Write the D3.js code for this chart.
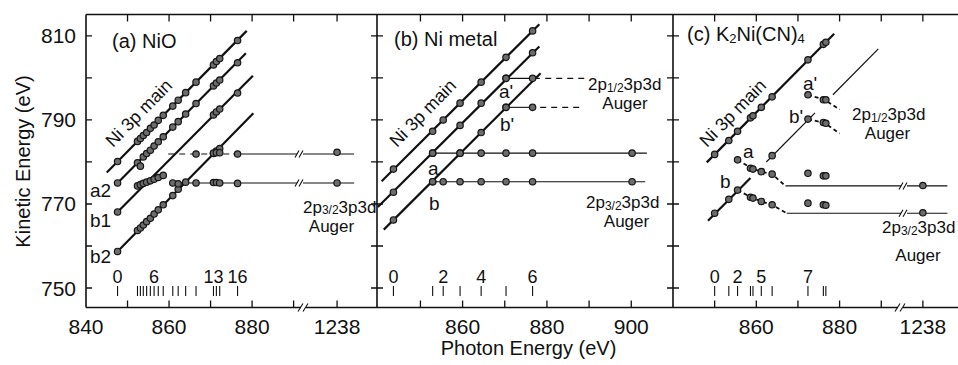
<!DOCTYPE html>
<html>
<head>
<meta charset="utf-8">
<script src="https://cdn.jsdelivr.net/npm/d3@7/dist/d3.min.js"></script>
<style>
html,body{margin:0;padding:0;background:#fff;}
svg{display:block;}
text{font-family:"Liberation Sans",Arial,Helvetica,sans-serif;fill:#111;}
</style>
</head>
<body>
<svg id="chart" width="958" height="365"></svg>
<script>
// ================= DATA =================
const keTicks = [750, 760, 770, 780, 790, 800, 810];
const keTickLabels = [750, 770, 790, 810];

// ---- (a) NiO ----
const nioTicks = [850, 860, 870, 880, 890, 1238];
const nioTickLabels = [840, 860, 880, 1238];
const nioHv = [847.6, 852.4, 853.1, 853.8, 854.6, 855.5, 856.4, 857.4, 858.6, 860.9, 862.2, 864.0, 866.5, 870.7, 871.4, 872.2, 876.5];
const nioHvShown = [0, 6, 13, 16];
const nioMain = [[847.6,780.1],[852.4,784.9],[853.1,785.6],[853.8,786.3],[854.6,787.0],[855.5,788.0],[856.4,788.8],[857.4,789.9],[858.6,791.1],[860.9,793.3],[862.2,794.7],[864.0,796.5],[866.5,799.0],[870.7,803.1],[871.4,803.9],[872.2,804.6],[876.5,808.9]];
const nioA2 = [[847.6,775.0],[852.4,779.8],[853.1,779.0],[853.8,781.2],[854.6,782.0],[855.5,782.8],[856.4,783.8],[857.4,784.8],[858.6,786.0],[860.9,788.3],[862.2,789.6],[864.0,791.4],[866.5,793.9],[870.7,798.1],[871.4,798.8],[872.2,799.5],[876.5,803.6]];
const nioB1 = [[847.6,768.1],[852.4,774.3],[853.1,774.6],[853.8,774.9],[854.6,775.2],[855.5,775.5],[856.4,775.9],[857.4,776.3],[858.6,776.8],[870.7,791.2],[871.4,791.9],[872.2,792.6],[876.5,796.4]];
const nioB2 = [[847.6,758.7],[852.4,763.7],[853.1,764.3],[853.8,765.0],[854.6,765.8],[855.5,766.6],[856.4,767.6],[857.4,768.6],[858.6,769.8],[860.9,772.0],[862.2,773.5],[870.7,782.0],[871.4,782.6],[872.2,783.2]];
const nioAugHi = [[866.5,781.9],[870.7,782.1],[871.4,782.2],[872.2,782.2],[876.5,781.9],[1238,782.3]];
const nioAugLo = [[860.9,775.0],[862.2,774.8],[864.0,775.2],[866.5,775.0],[870.7,775.1],[871.4,775.1],[872.2,775.0],[876.5,774.9],[1238,775.0]];
const nioFitMain = [[845.0,777.5],[878.7,811.2]];
const nioFitA2 = [[847.6,775.0],[878.5,805.9]];
const nioFitB1 = [[847.6,768.1],[880.2,800.5]];
const nioFitB2 = [[847.6,758.7],[880.3,791.6]];
const nioHiDash = [[859.8,781.9],[875.5,781.9]];
const nioHiSolid = [[875.5,781.9],[1242.1,781.9]];
const nioLoSolid = [[860.9,775.0],[1242.1,775.0]];

// ---- (b) Ni metal ----
const niTicks = [850, 860, 870, 880, 890, 900];
const niTickLabels = [860, 880, 900];
const niHv = [843.6, 852.9, 855.4, 859.4, 864.4, 870.3, 876.6];
const niHvShown = [0, 2, 4, 6];
const niMain = [[843.6,778.3],[852.9,787.3],[855.4,790.0],[859.4,794.0],[864.4,799.0],[870.3,804.9],[876.6,811.2]];
const niA = [[843.6,772.8],[852.9,782.1],[859.4,788.7],[864.4,794.0],[870.3,799.9],[876.6,806.0]];
const niB = [[843.6,766.2],[852.9,775.3],[859.4,782.1],[864.4,787.0],[870.3,793.0]];
const niAugA = [[852.9,782.1],[859.4,782.1],[864.4,782.1],[870.3,782.1],[876.6,782.1],[900.2,782.1]];
const niAugB = [[852.9,775.3],[855.4,775.3],[859.4,775.3],[864.4,775.3],[870.3,775.3],[876.6,775.3],[900.2,775.3]];
const niAugA1 = [[870.3,799.9],[876.6,799.9]];
const niAugB1 = [[870.3,793.0],[876.6,793.0]];
const niFitMain = [[840.8,775.4],[878.2,812.8]];
const niFitA = [[839.9,769.3],[878.2,807.5]];
const niFitB = [[841.3,763.9],[878.5,801.1]];
const niLineA = [[852.9,782.1],[903.7,782.1]];
const niLineB = [[852.9,775.3],[903.3,775.3]];
const niLineA1 = [[870.3,799.9],[878.3,799.9]];
const niDashA1 = [[879.6,799.9],[889.6,799.9]];
const niLineB1 = [[870.3,793.0],[876.6,793.0]];
const niDashB1 = [[878.4,793.0],[888.4,793.0]];

// ---- (c) K2Ni(CN)4 ----
const kTicks = [850, 860, 870, 880, 890, 1238];
const kTickLabels = [860, 880, 1238];
const kHv = [850.0, 853.4, 855.5, 858.6, 859.2, 861.2, 863.8, 872.4, 876.1, 876.7];
const kHvShown = [0, 2, 5, 7];
const kMain = [[850.0,781.8],[853.4,785.1],[855.5,787.3],[858.6,790.5],[859.2,791.0],[861.2,793.0],[863.8,795.5],[872.4,804.3],[876.1,808.0],[876.7,808.5]];
const kB = [[850.0,767.8],[853.4,771.1],[855.5,773.3],[863.8,781.5]];
const kA = [[855.5,780.5],[858.6,778.5],[859.2,778.3],[861.2,777.7],[863.8,777.1],[872.4,777.3],[876.1,776.7],[876.7,776.7],[1238,774.4]];
const kBaug = [[858.6,771.6],[859.2,771.4],[861.2,770.6],[863.8,769.8],[872.4,770.2],[876.1,769.8],[876.7,769.7],[1238,767.9]];
const kA1 = [[872.4,796.0],[876.1,794.8],[876.7,794.8]];
const kB1 = [[872.4,790.2],[876.1,789.4],[876.7,789.2]];
const kFitMain = [[848.1,779.9],[878.7,810.5]];
const kFitB = [[848.4,766.0],[858.6,776.2]];
const kThin1 = [[862.4,780.0],[874.1,791.7]];
const kThin2 = [[878.4,796.0],[889.3,806.9]];
const kDashA = [[855.5,780.5],[859.0,778.4],[861.2,777.7],[863.8,777.1],[867.0,774.3]];
const kLineA = [[867.0,774.3],[1244.0,774.3]];
const kDashB = [[855.5,773.3],[859.0,771.5],[861.2,770.6],[863.8,769.8],[867.3,767.8]];
const kLineB = [[867.3,767.8],[1244.0,767.8]];
const kDashA1 = [[872.4,796.0],[876.4,794.8],[880.0,792.5]];
const kDashB1 = [[872.4,790.2],[876.4,789.3],[880.0,786.8]];

// ================= LAYOUT =================
const svg = d3.select("#chart");
const TOP = 14.5, BOT = 307.5;
const y = d3.scaleLinear().domain([745.36, 815.1]).range([BOT, TOP]);
const xA = d3.scaleLinear().domain([840, 892.5, 1230.05, 1247.6]).range([86, 304, 304, 377]);
const xB = d3.scaleLinear().domain([839.7, 909.9]).range([377, 673]);
const xC = d3.scaleLinear().domain([840, 894.5, 1232.4, 1246.6]).range([673, 900, 900, 958]);
const INK = "#111";

const gLines = svg.append("g");
const gPts = svg.append("g");
const gTxt = svg.append("g");

function line(x, pts, w, dash) {
  gLines.append("path")
    .attr("d", d3.line().x(d => x(d[0])).y(d => y(d[1]))(pts))
    .attr("fill", "none").attr("stroke", INK)
    .attr("stroke-width", w).attr("stroke-dasharray", dash || null)
    .attr("stroke-linecap", "butt");
}
function points(x, pts) {
  gPts.selectAll(null).data(pts).enter().append("circle")
    .attr("cx", d => x(d[0])).attr("cy", d => y(d[1])).attr("r", 3.2)
    .attr("fill", "#6c6c6c").attr("stroke", "#151515").attr("stroke-width", 1.2);
}
function lineBreak(px, py) {
  gLines.append("rect").attr("x", px - 3).attr("y", py - 4).attr("width", 6).attr("height", 8).attr("fill", "#fff");
  gLines.append("path").attr("d", `M${px-5},${py+3.5}L${px-1},${py-3.5}M${px-1},${py+3.5}L${px+3},${py-3.5}`)
    .attr("stroke", INK).attr("stroke-width", 1.1).attr("fill", "none");
}
function text(x, yb, parts, size, anchor, transform) {
  const t = gTxt.append("text").attr("x", x).attr("y", yb).attr("font-size", size)
    .attr("text-anchor", anchor || "start");
  if (transform) t.attr("transform", transform);
  if (typeof parts === "string") { t.text(parts); return t; }
  parts.forEach(p => t.append("tspan").attr("font-size", p[1] || size).attr("dy", p[2] || 0).text(p[0]));
  return t;
}

// ---- frame ----
svg.append("path")
  .attr("d", `M86,${TOP}H958M86,${BOT}H958M86,${TOP}V${BOT}M377,${TOP}V${BOT}M673,${TOP}V${BOT}`)
  .attr("stroke", INK).attr("stroke-width", 1.6).attr("fill", "none");

// y ticks
keTicks.forEach(v => {
  const yy = y(v);
  svg.append("path").attr("d", `M86,${yy}H92M371,${yy}H383M667,${yy}H679`)
    .attr("stroke", INK).attr("stroke-width", 1.3);
});
keTickLabels.forEach(v => text(76, y(v) + 7.5, String(v), 21, "end"));

// x ticks
function xTicks(x, ticks, labels) {
  ticks.forEach(v => {
    const xx = x(v);
    svg.append("path").attr("d", `M${xx},${TOP}V${TOP + 7}M${xx},${BOT}V${BOT - 7}`)
      .attr("stroke", INK).attr("stroke-width", 1.3);
  });
  labels.forEach(v => text(x(v), 334, String(v), 21, "middle"));
}
xTicks(xA, nioTicks, nioTickLabels);
xTicks(xB, niTicks, niTickLabels);
xTicks(xC, kTicks, kTickLabels);

function axisBreak(px) {
  svg.append("rect").attr("x", px - 3).attr("y", BOT - 3).attr("width", 5).attr("height", 6).attr("fill", "#fff");
  svg.append("path").attr("d", `M${px-6},${BOT+4}L${px-1},${BOT-4}M${px-1},${BOT+4}L${px+4},${BOT-4}`)
    .attr("stroke", INK).attr("stroke-width", 1.1).attr("fill", "none");
}
axisBreak(304);
axisBreak(901);

// photon-energy index marks
function indexMarks(x, hvs, shown) {
  hvs.forEach(h => {
    svg.append("line").attr("x1", x(h)).attr("x2", x(h)).attr("y1", 286).attr("y2", 296)
      .attr("stroke", INK).attr("stroke-width", 1.1);
  });
  shown.forEach(i => text(x(hvs[i]), 283, String(i), 18, "middle"));
}
indexMarks(xA, nioHv, nioHvShown);
indexMarks(xB, niHv, niHvShown);
indexMarks(xC, kHv, kHvShown);

// axis titles
text(0, 0, "Kinetic Energy (eV)", 20, "middle", "translate(30,161.5) rotate(-90)");
text(528.5, 355, "Photon Energy (eV)", 20, "middle");

// ================= PANEL (a) =================
line(xA, nioFitMain, 2.2); line(xA, nioFitA2, 2.2); line(xA, nioFitB1, 2.2); line(xA, nioFitB2, 2.2);
line(xA, nioHiDash, 1.1, "6,5");
line(xA, nioHiSolid, 1.1);
line(xA, nioLoSolid, 1.1);
lineBreak(300, y(781.9));
lineBreak(300, y(775.0));
[nioMain, nioA2, nioB1, nioB2, nioAugHi, nioAugLo].forEach(s => points(xA, s));
text(112, 48, "(a) NiO", 20);
text(0, 0, "Ni 3p main", 18, "start", "translate(113,148) rotate(-45.5)");
text(90, 197, "a2", 19);
text(90, 227, "b1", 19);
text(90, 263, "b2", 19);
text(303, 212.5, [["2p"], ["3/2", 12, 1.5], ["3p3d", 17, -1.5]], 17);
text(331.5, 232, "Auger", 17, "middle");

// ================= PANEL (b) =================
line(xB, niFitMain, 2.2); line(xB, niFitA, 2.2); line(xB, niFitB, 2.2);
line(xB, niLineA, 1.1); line(xB, niLineB, 1.1);
line(xB, niLineA1, 1.1); line(xB, niDashA1, 1.1, "6,5");
line(xB, niLineB1, 1.1); line(xB, niDashB1, 1.1, "6,5");
[niMain, niA, niB, niAugA, niAugB, niAugA1, niAugB1].forEach(s => points(xB, s));
text(394, 46, "(b) Ni metal", 20);
text(0, 0, "Ni 3p main", 18, "start", "translate(397,148) rotate(-45.5)");
text(499, 98, "a'", 19);
text(500, 131, "b'", 19);
text(428, 175, "a", 19);
text(429, 210, "b", 19);
text(588, 90, [["2p"], ["1/2", 12, 1.5], ["3p3d", 17, -1.5]], 17);
text(625, 109, "Auger", 17, "middle");
text(586, 208, [["2p"], ["3/2", 12, 1.5], ["3p3d", 17, -1.5]], 17);
text(626.5, 227, "Auger", 17, "middle");

// ================= PANEL (c) =================
line(xC, kFitMain, 2.2);
line(xC, kFitB, 2.2);
line(xC, kThin1, 1.2); line(xC, kThin2, 1.2);
line(xC, kDashA, 1.8, "4,3"); line(xC, kDashB, 1.8, "4,3");
line(xC, kDashA1, 1.8, "4,3"); line(xC, kDashB1, 1.8, "4,3");
line(xC, kLineA, 1.1); line(xC, kLineB, 1.1);
lineBreak(904, y(774.3));
lineBreak(904, y(767.8));
[kMain, kB, kA, kBaug, kA1, kB1].forEach(s => points(xC, s));
text(687, 41, [["(c) K"], ["2", 13, 2], ["Ni(CN)", 20, -2], ["4", 13, 2]], 20);
text(0, 0, "Ni 3p main", 18, "start", "translate(707,148) rotate(-45.5)");
text(803, 90, "a'", 19);
text(789, 123, "b'", 19);
text(743, 158, "a", 19);
text(720, 188, "b", 19);
text(852, 120, [["2p"], ["1/2", 12, 1.5], ["3p3d", 17, -1.5]], 17);
text(887.5, 139, "Auger", 17, "middle");
text(882, 233, [["2p"], ["3/2", 12, 1.5], ["3p3d", 17, -1.5]], 17);
text(918, 261, "Auger", 17, "middle");
</script>
</body>
</html>
